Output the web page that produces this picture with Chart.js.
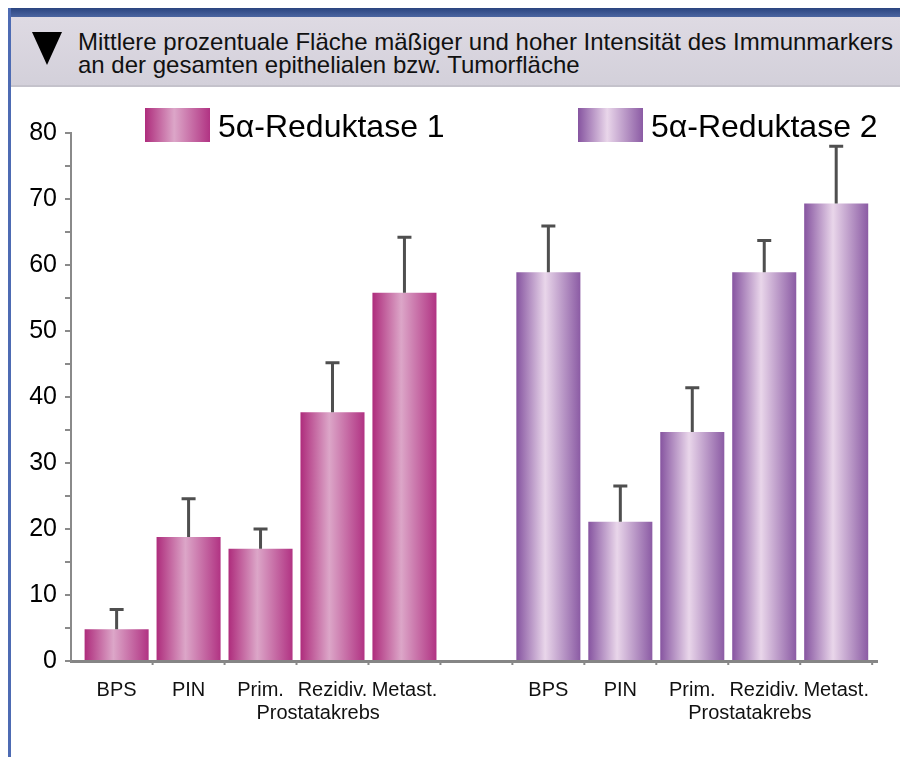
<!DOCTYPE html>
<html>
<head>
<meta charset="utf-8">
<script src="https://cdn.jsdelivr.net/npm/chart.js@4.4.0/dist/chart.umd.min.js"></script>
<style>
  body { margin: 0; background: #fff; font-family: "Liberation Sans", Arial, sans-serif; }
  #page { position: relative; width: 900px; height: 757px; overflow: hidden; }
  #topbar { position: absolute; left: 8px; top: 8px; width: 892px; height: 9px;
            background: linear-gradient(#2b4580, #4a64a0); }
  #leftbar { position: absolute; left: 8px; top: 8px; width: 3px; height: 749px; background: #4d6bb3; }
  #head { position: absolute; left: 11px; top: 17px; width: 889px; height: 68px;
          background: linear-gradient(#dedae3, #d3d0da); border-bottom: 2px solid #c4c2cb; }
  #tri { position: absolute; left: 21px; top: 15px; width: 0; height: 0;
         border-left: 15px solid transparent; border-right: 15px solid transparent; border-top: 33px solid #000; }
  #title { position: absolute; left: 67px; top: 13px; font-size: 24px; line-height: 23px; color: #111; white-space: nowrap; }
  #wrap { position: absolute; left: 12px; top: 88px; width: 888px; height: 669px; }
</style>
</head>
<body>
<div id="page">
  <div id="topbar"></div>
  <div id="head">
    <div id="tri"></div>
    <div id="title">Mittlere prozentuale Fläche mäßiger und hoher Intensität des Immunmarkers<br>an der gesamten epithelialen bzw. Tumorfläche</div>
  </div>
  <div id="leftbar"></div>
  <div id="wrap"><canvas id="chart"></canvas></div>
</div>
<script>
// categories (empty slot between the two groups)
var labels = ['BPS', 'PIN', 'Prim.', 'Rezidiv.', 'Metast.', '', 'BPS', 'PIN', 'Prim.', 'Rezidiv.', 'Metast.'];
var seriesNames = ['5α-Reduktase 1', '5α-Reduktase 2'];
var subLabel = 'Prostatakrebs';

// mean values and upper end of the error bars
var red1 = [4.8, 18.8, 17.0, 37.7, 55.8];
var red1Err = [7.8, 24.6, 20.0, 45.2, 64.2];
var red2 = [58.9, 21.1, 34.7, 58.9, 69.3];
var red2Err = [65.9, 26.5, 41.4, 63.7, 78.0];

var yTicks = [0, 10, 20, 30, 40, 50, 60, 70, 80];

var pink = ['#ae2c7c', '#dca6c8', '#b13383'];
var purple = ['#8654a0', '#e9d6ea', '#8b5ba4'];
var barPct = 0.89;

function makeGrad(ctx2d, x0, x1, cols) {
    var g = ctx2d.createLinearGradient(x0, 0, x1, 0);
    g.addColorStop(0, cols[0]);
    g.addColorStop(0.45, cols[1]);
    g.addColorStop(1, cols[2]);
    return g;
}

function barFill(cols) {
    return function (c) {
        var chart = c.chart;
        var xs = chart.scales.x;
        if (!chart.chartArea || !xs || !c.raw) return cols[0];
        var px = xs.getPixelForValue(c.raw.x);
        var half = (xs.getPixelForValue(1) - xs.getPixelForValue(0)) * barPct / 2;
        return makeGrad(chart.ctx, px - half, px + half, cols);
    };
}

var data1 = red1.map(function (v, i) { return { x: i, y: v, e: red1Err[i] }; });
var data2 = red2.map(function (v, i) { return { x: i + 6, y: v, e: red2Err[i] }; });

// error bars, x tick marks, second label line and legend
var extras = {
    id: 'extras',
    afterDatasetsDraw: function (chart) {
        var ctx = chart.ctx, xs = chart.scales.x, ys = chart.scales.y;
        ctx.save();
        ctx.strokeStyle = '#4f4f4f';
        ctx.lineWidth = 3;
        chart.data.datasets.forEach(function (ds) {
            ds.data.forEach(function (p) {
                var px = xs.getPixelForValue(p.x);
                var y0 = ys.getPixelForValue(p.y);
                var y1 = ys.getPixelForValue(p.e);
                ctx.beginPath();
                ctx.moveTo(px, y0);
                ctx.lineTo(px, y1);
                ctx.moveTo(px - 7, y1);
                ctx.lineTo(px + 7, y1);
                ctx.stroke();
            });
        });
        // small ticks between categories
        ctx.strokeStyle = '#888';
        ctx.lineWidth = 2;
        var yb = ys.getPixelForValue(0);
        for (var i = 0; i < labels.length; i++) {
            var tx = xs.getPixelForValue(i + 0.5);
            ctx.beginPath();
            ctx.moveTo(tx, yb);
            ctx.lineTo(tx, yb + 4);
            ctx.stroke();
        }
        ctx.restore();
    },
    afterDraw: function (chart) {
        var ctx = chart.ctx, xs = chart.scales.x, a = chart.chartArea;
        ctx.save();
        ctx.fillStyle = '#111';
        ctx.font = '20px "Liberation Sans", Arial, sans-serif';
        ctx.textAlign = 'center';
        ctx.textBaseline = 'alphabetic';
        [2.8, 8.8].forEach(function (v) {
            ctx.fillText(subLabel, xs.getPixelForValue(v), a.bottom + 58);
        });
        // legend
        var items = [[a.left + 74, pink], [a.left + 507, purple]];
        ctx.font = '32px "Liberation Sans", Arial, sans-serif';
        ctx.textAlign = 'left';
        items.forEach(function (it, k) {
            var bx = it[0], by = a.top - 25;
            ctx.fillStyle = makeGrad(ctx, bx, bx + 65, it[1]);
            ctx.fillRect(bx, by, 65, 34);
            ctx.fillStyle = '#000';
            ctx.fillText(seriesNames[k], bx + 73, by + 29);
        });
        ctx.restore();
    }
};

var chart = new Chart(document.getElementById('chart').getContext('2d'), {
    type: 'bar',
    data: {
        datasets: [{
            label: seriesNames[0],
            data: data1,
            backgroundColor: barFill(pink),
            categoryPercentage: 1,
            barPercentage: barPct,
            grouped: false
        }, {
            label: seriesNames[1],
            data: data2,
            backgroundColor: barFill(purple),
            categoryPercentage: 1,
            barPercentage: barPct,
            grouped: false
        }]
    },
    options: {
        responsive: true,
        maintainAspectRatio: false,
        animation: false,
        layout: { padding: { top: 45, right: 23, left: 0, bottom: 0 } },
        plugins: {
            legend: { display: false },
            tooltip: { enabled: false }
        },
        scales: {
            x: {
                type: 'linear',
                offset: false,
                min: -0.634,
                max: 10.567,
                afterBuildTicks: function (s) {
                    s.ticks = labels.map(function (l, i) { return { value: i }; });
                },
                afterFit: function (s) { s.height = 96; },
                ticks: {
                    autoSkip: false,
                    maxRotation: 0,
                    padding: 17,
                    color: '#111',
                    font: { family: '"Liberation Sans", Arial, sans-serif', size: 20 },
                    callback: function (v) { return labels[v] || ''; }
                },
                grid: { display: false, drawTicks: false },
                border: { color: '#858585', width: 3 }
            },
            y: {
                min: 0,
                max: 80,
                afterBuildTicks: function (s) {
                    var t = [];
                    for (var v = 0; v <= 80; v += 5) t.push({ value: v });
                    s.ticks = t;
                },
                afterFit: function (s) { s.width = 59; },
                ticks: {
                    padding: 8,
                    color: '#000',
                    font: { family: '"Liberation Sans", Arial, sans-serif', size: 25 },
                    callback: function (v) { return yTicks.indexOf(v) >= 0 ? v : ''; }
                },
                grid: { drawOnChartArea: false, tickLength: 6, color: '#8a8a8a', lineWidth: 2 },
                border: { color: '#8a8a8a', width: 2 }
            }
        }
    },
    plugins: [extras]
});
</script>
</body>
</html>
